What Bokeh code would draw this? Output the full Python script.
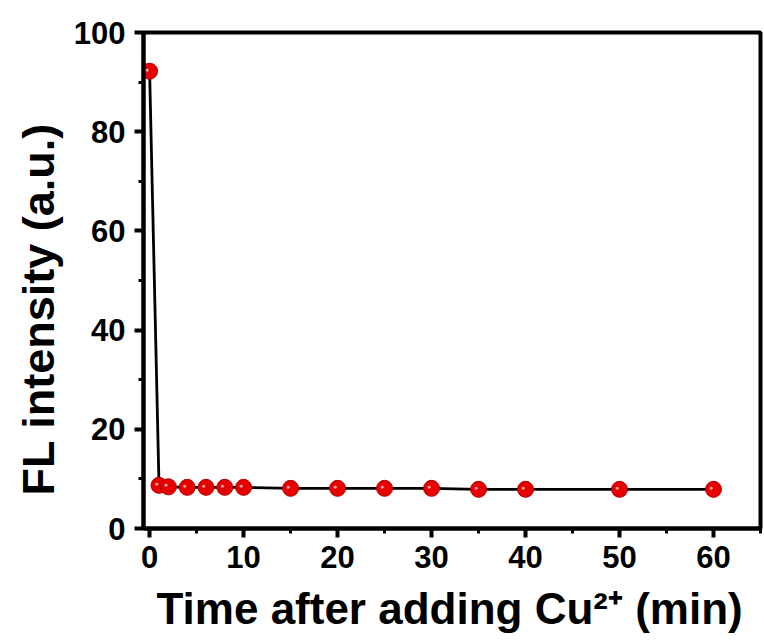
from bokeh.plotting import figure
from bokeh.models import Range1d, FixedTicker, Title
from bokeh.embed import file_html
from bokeh.resources import INLINE

time_min = [0, 1, 2, 4, 6, 8, 10, 15, 20, 25, 30, 35, 40, 50, 60]
fl_intensity = [92.2, 8.7, 8.4, 8.3, 8.3, 8.3, 8.3, 8.1, 8.1, 8.1, 8.1, 7.9, 7.9, 7.9, 7.9]
x_ticks = [0, 10, 20, 30, 40, 50, 60]
y_ticks = [0, 20, 40, 60, 80, 100]
x_title = "Time after adding Cu\u00b2\u207a (min)"
y_title = "FL intensity (a.u.)"

FONT = "Liberation Sans"
FRAME_LEFT = 143
FRAME_BOTTOM = 528

p = figure(width=764, height=644, output_backend="svg", toolbar_location=None,
           x_range=Range1d(-0.65, 65), y_range=Range1d(0, 100),
           min_border_left=FRAME_LEFT, min_border_right=4, min_border_top=32,
           min_border_bottom=644 - FRAME_BOTTOM)
p.grid.visible = False
p.background_fill_color = "white"
p.border_fill_color = "white"
p.outline_line_color = "black"
p.outline_line_width = 4

for ax in (p.xaxis[0], p.yaxis[0]):
    ax.axis_line_width = 4
    ax.major_tick_line_width = 4
    ax.minor_tick_line_width = 3
    ax.major_tick_in = 0
    ax.minor_tick_in = 0
    ax.major_label_text_font = FONT
    ax.major_label_text_font_style = "bold"
    ax.major_label_text_color = "black"

p.xaxis.ticker = FixedTicker(ticks=x_ticks, minor_ticks=[5, 15, 25, 35, 45, 55, 65])
p.yaxis.ticker = FixedTicker(ticks=y_ticks, minor_ticks=[10, 30, 50, 70, 90])
p.xaxis.major_tick_out = 9
p.xaxis.minor_tick_out = 5
p.yaxis.major_tick_out = 9
p.yaxis.minor_tick_out = 5
p.xaxis.major_label_text_font_size = "31px"
p.yaxis.major_label_text_font_size = "31px"
p.xaxis.major_label_standoff = 8
p.yaxis.major_label_standoff = 9

p.add_layout(Title(text=x_title, align="left", offset=13, standoff=23,
                   text_font=FONT, text_font_style="bold", text_font_size="44px",
                   text_color="black"), "below")
p.add_layout(Title(text=y_title, align="left", offset=33, standoff=14,
                   text_font=FONT, text_font_style="bold", text_font_size="45px",
                   text_color="black"), "left")

p.line(time_min, fl_intensity, line_color="black", line_width=2.8)
p.scatter(time_min, fl_intensity, size=16, fill_color="#e60000", line_color="#b00000", line_width=1)
p.text(time_min, fl_intensity, text=["\u25cf"] * len(time_min), x_offset=-2.5, y_offset=-2,
       text_align="center", text_baseline="middle", text_font_size="7px",
       text_color="#ffc0c0", text_alpha=0.9)

open("out.html", "w").write(file_html(p, INLINE))
